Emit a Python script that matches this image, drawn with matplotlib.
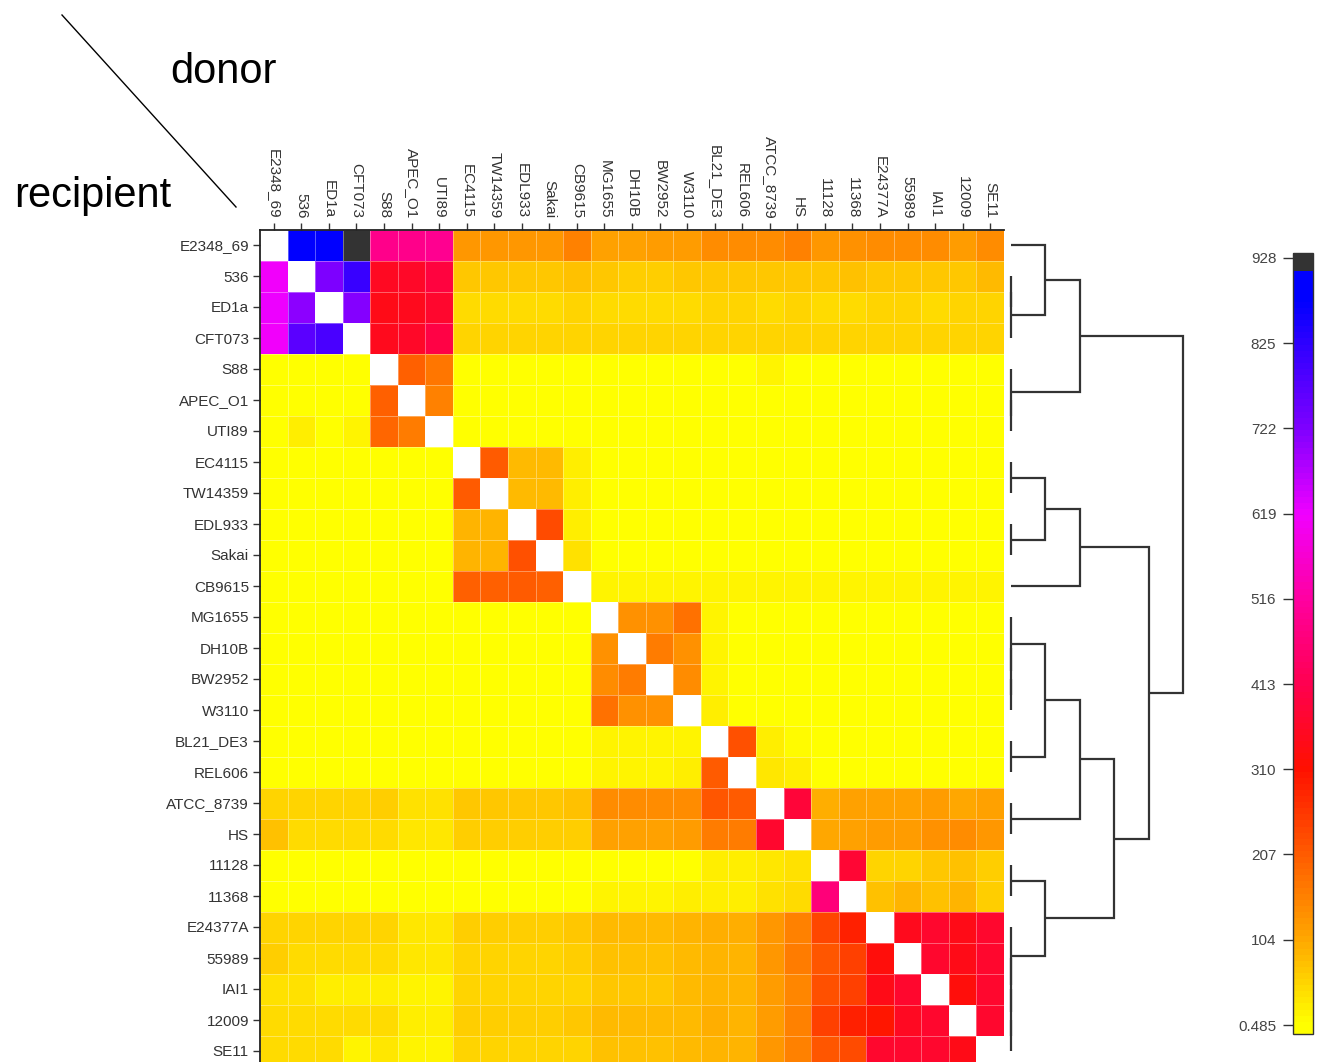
import numpy as np
import matplotlib
matplotlib.use('Agg')
import matplotlib.pyplot as plt
from matplotlib.colors import LinearSegmentedColormap, Normalize
from matplotlib.lines import Line2D
import matplotlib.cm as cm

plt.rcParams['font.family'] = ['Liberation Sans', 'DejaVu Sans']

nan = np.nan

strains = ['E2348_69', '536', 'ED1a', 'CFT073', 'S88', 'APEC_O1', 'UTI89',
           'EC4115', 'TW14359', 'EDL933', 'Sakai', 'CB9615', 'MG1655', 'DH10B',
           'BW2952', 'W3110', 'BL21_DE3', 'REL606', 'ATCC_8739', 'HS', '11128',
           '11368', 'E24377A', '55989', 'IAI1', '12009', 'SE11']

# transfer counts, rows = recipient, columns = donor
transfers = [
    [nan, 890, 880, 928, 485, 485, 495, 125, 128, 128, 130, 157, 111, 111, 117, 122, 138, 144, 140, 157, 128, 133, 144, 144, 144, 117, 144],
    [615, nan, 725, 815, 355, 360, 395, 66, 66, 68, 68, 72, 64, 62, 62, 64, 68, 68, 66, 70, 68, 78, 68, 66, 68, 70, 80],
    [620, 710, nan, 715, 340, 345, 370, 45, 48, 48, 46, 52, 46, 44, 44, 44, 50, 50, 48, 50, 46, 44, 52, 50, 48, 50, 52],
    [612, 770, 790, nan, 350, 360, 400, 52, 54, 54, 54, 56, 56, 54, 54, 54, 56, 54, 54, 56, 54, 54, 56, 54, 52, 54, 55],
    [2, 2, 2, 2, nan, 199, 170] + [2] * 11 + [15] + [2] * 8,
    [2, 2, 2, 2, 200, nan, 155] + [2] * 20,
    [2, 20, 3, 18, 195, 166, nan] + [2] * 20,
    [2] * 7 + [nan, 207, 80, 80, 20] + [2] * 15,
    [2] * 7 + [207, nan, 80, 80, 23] + [2] * 15,
    [2] * 7 + [91, 86, nan, 230, 23] + [2] * 15,
    [2] * 7 + [91, 91, 221, nan, 36] + [2] * 15,
    [2] * 7 + [199, 199, 205, 199, nan] + [15] * 15,
    [2] * 12 + [nan, 133, 133, 177, 17] + [2] * 10,
    [2] * 12 + [135, nan, 166, 135, 17] + [2] * 10,
    [2] * 12 + [144, 166, nan, 144, 17] + [2] * 10,
    [2] * 12 + [177, 135, 135, nan, 20] + [2] * 10,
    [2] * 12 + [17, 17, 17, 17, nan, 221, 20, 10] + [2] * 7,
    [2] * 12 + [17, 17, 17, 20, 207, nan, 27, 20] + [2] * 7,
    [50, 50, 50, 50, 59, 40, 40, 64, 64, 64, 64, 73, 138, 138, 138, 144, 214, 207, nan, 386, 98, 111, 111, 111, 117, 101, 111],
    [73, 45, 45, 45, 45, 27, 27, 57, 57, 57, 57, 57, 111, 111, 111, 117, 166, 166, 370, nan, 101, 111, 122, 122, 133, 138, 128],
    [2] * 15 + [3, 20, 23, 31, 40, nan, 375, 52, 52, 64, 73, 59],
    [3] * 12 + [15, 15, 15, 20, 20, 23, 36, 45, 465, nan, 73, 91, 73, 91, 59],
    [54, 50, 50, 50, 50, 31, 31, 59, 59, 59, 59, 68, 82, 82, 82, 91, 98, 98, 128, 155, 236, 288, nan, 345, 370, 338, 370],
    [59, 45, 45, 45, 45, 27, 27, 54, 54, 54, 54, 59, 73, 73, 73, 82, 86, 91, 128, 160, 216, 243, 325, nan, 370, 338, 370],
    [40, 40, 20, 20, 23, 17, 17, 54, 54, 54, 54, 54, 64, 64, 64, 82, 91, 91, 122, 150, 221, 243, 338, 370, nan, 325, 370],
    [43, 43, 43, 43, 43, 20, 20, 57, 57, 57, 57, 64, 82, 82, 82, 82, 98, 91, 122, 155, 243, 288, 305, 355, 370, nan, 370],
    [43, 43, 43, 15, 31, 17, 17, 54, 54, 54, 54, 54, 76, 76, 76, 79, 91, 91, 128, 155, 214, 228, 370, 370, 370, 338, nan],
]

# row clustering: (left, right, height); new node ids start after the leaves
merges = [
    (1, 2, 0), (27, 3, 0), (0, 28, 1), (5, 6, 0), (4, 30, 0), (29, 31, 2),
    (7, 8, 0), (9, 10, 0), (33, 34, 1), (35, 11, 2),
    (14, 15, 0), (13, 37, 0), (12, 38, 0), (16, 17, 0), (39, 40, 1),
    (18, 19, 0), (41, 42, 2), (20, 21, 0), (25, 26, 0), (24, 45, 0),
    (23, 46, 0), (22, 47, 0), (44, 48, 1), (43, 49, 3), (36, 50, 4),
    (32, 51, 5),
]

cbar_ticks = [0.485, 104, 207, 310, 413, 516, 619, 722, 825, 928]
cbar_labels = ['0.485', '104', '207', '310', '413', '516', '619', '722', '825', '928']

# colour scale anchors
scale_vals = [-10, 0, 104, 207, 310, 413, 516, 619, 722, 825, 880, 912, 913, 934]
scale_cols = ['#FFFF00', '#FFFF00', '#FFA500', '#FF5A00', '#FF1000', '#FF0050',
              '#FF00A0', '#F000FF', '#8000FF', '#3000FF', '#0000FF', '#0000FF',
              '#333333', '#333333']

vmin, vmax = scale_vals[0], scale_vals[-1]
cmap = LinearSegmentedColormap.from_list(
    'transfer', [((v - vmin) / (vmax - vmin), c) for v, c in zip(scale_vals, scale_cols)], N=128)
cmap.set_bad('white')
norm = Normalize(vmin=vmin, vmax=vmax)

W, H = 1317, 1062
fig = plt.figure(figsize=(W / 100, H / 100), dpi=100)


def px_axes(left, top, right, bottom):
    return fig.add_axes([left / W, 1 - bottom / H, (right - left) / W, (bottom - top) / H])


n = len(strains)
data = np.ma.masked_invalid(np.array(transfers, dtype=float))

# heatmap
ax = px_axes(260, 229.5, 1004, 1066.5)
ax.pcolormesh(np.arange(n + 1), np.arange(n + 1), data, cmap=cmap, norm=norm,
              edgecolors=(1, 1, 1, 0.35), linewidth=0.6)
ax.set_xlim(0, n)
ax.set_ylim(n, 0)
ax.xaxis.tick_top()
ax.set_xticks(np.arange(n) + 0.5)
ax.set_xticklabels(strains, rotation=-90)
ax.set_yticks(np.arange(n) + 0.5)
ax.set_yticklabels(strains)
ax.tick_params(length=5, width=1, color='#333333', labelsize=11,
               labelcolor='#333333', pad=3)
for side in ['right', 'bottom']:
    ax.spines[side].set_visible(False)
for side in ['left', 'top']:
    ax.spines[side].set_linewidth(1.3)
    ax.spines[side].set_color('#222222')

# row dendrogram
ax_d = px_axes(1004, 229.5, 1190, 1066.5)
nodes = {i: (i + 0.5, 0.0) for i in range(n)}
for k, (a, b, h) in enumerate(merges):
    ya, ha = nodes[a]
    yb, hb = nodes[b]
    ax_d.plot([ha, h, h, hb], [ya, ya, yb, yb], color='#333333', lw=1.6,
              solid_capstyle='butt', solid_joinstyle='miter')
    nodes[n + k] = ((ya + yb) / 2, h)
ax_d.set_xlim(-0.2035, 5.2035)
ax_d.set_ylim(n, 0)
ax_d.axis('off')

# colour key
cax = px_axes(1293, 253, 1313, 1034)
sm = cm.ScalarMappable(norm=norm, cmap=cmap)
cb = fig.colorbar(sm, cax=cax, ticks=cbar_ticks)
cb.ax.yaxis.set_ticks_position('left')
cb.ax.set_yticklabels(cbar_labels)
cb.ax.tick_params(length=7, width=1, color='#333333', labelsize=11,
                  labelcolor='#444444', pad=5)
cb.outline.set_linewidth(1)
cb.outline.set_edgecolor('#333333')

# corner labels
fig.text(170 / W, 1 - 83 / H, 'donor', fontsize=30, va='baseline', ha='left')
fig.text(14 / W, 1 - 207 / H, 'recipient', fontsize=30, va='baseline', ha='left')
fig.add_artist(Line2D([62 / W, 236 / W], [1 - 15 / H, 1 - 207 / H],
                      transform=fig.transFigure, color='black', lw=1))

fig.savefig('out.png', dpi=100)
